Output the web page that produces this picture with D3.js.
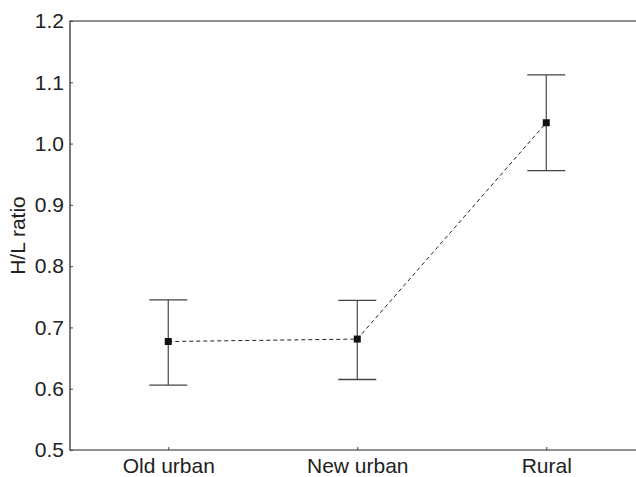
<!DOCTYPE html>
<html>
<head>
<meta charset="utf-8">
<script src="https://cdn.jsdelivr.net/npm/d3@7"></script>
<style>
  body { margin: 0; background: #fff; }
  text { font-family: "Liberation Sans", Arial, sans-serif; }
</style>
</head>
<body>
<div class="canva"></div>
<script>
const categories = ["Old urban", "New urban", "Rural"];
const means = [0.677, 0.681, 1.034];
const upper = [0.745, 0.744, 1.112];
const lower = [0.606, 0.615, 0.956];
const yTicks = [0.5, 0.6, 0.7, 0.8, 0.9, 1.0, 1.1, 1.2];

const width = 636, height = 477;
const plotLeft = 70, plotTop = 21, plotBottom = 450, plotRight = 637;
const fontSize = 21;

const svg = d3.select(".canva").append("svg")
    .attr("width", width)
    .attr("height", height);

const x = d3.scaleLinear().domain([-0.52, 2.48]).range([plotLeft, plotRight]);
const y = d3.scaleLinear().domain([0.5, 1.2]).range([plotBottom, plotTop]);

// frame (left, top, bottom; right side runs off the canvas)
svg.append("path")
    .attr("d", `M${plotRight},${plotTop}H${plotLeft}V${plotBottom}H${plotRight}`)
    .attr("fill", "none")
    .attr("stroke", "#222")
    .attr("stroke-width", 1.2);

// y axis, ticks pointing inward
const yAxis = d3.axisLeft(y).tickValues(yTicks).tickSizeInner(-3).tickSizeOuter(0)
    .tickPadding(6).tickFormat(d3.format(".1f"));
const gy = svg.append("g").attr("transform", `translate(${plotLeft},0)`).call(yAxis);
gy.select(".domain").remove();
gy.selectAll("line").attr("stroke", "#444");
gy.selectAll("text").attr("font-size", fontSize).attr("fill", "#222")
    .attr("font-family", "Liberation Sans, Arial, sans-serif");

// x axis, ticks pointing inward
const xAxis = d3.axisBottom(x).tickValues([0, 1, 2]).tickSizeInner(-3).tickSizeOuter(0)
    .tickPadding(8).tickFormat(i => categories[i]);
const gx = svg.append("g").attr("transform", `translate(0,${plotBottom})`).call(xAxis);
gx.select(".domain").remove();
gx.selectAll("line").attr("stroke", "#444");
gx.selectAll("text").attr("font-size", fontSize).attr("fill", "#222")
    .attr("font-family", "Liberation Sans, Arial, sans-serif");

// y label
svg.append("text")
    .attr("transform", `translate(25,${(plotTop + plotBottom) / 2}) rotate(-90)`)
    .attr("text-anchor", "middle")
    .attr("font-size", fontSize)
    .attr("fill", "#222")
    .text("H/L ratio");

const idx = d3.range(categories.length);

// dashed connecting line
svg.append("path")
    .datum(idx)
    .attr("d", d3.line().x(i => x(i)).y(i => y(means[i])))
    .attr("fill", "none")
    .attr("stroke", "#222")
    .attr("stroke-width", 1)
    .attr("stroke-dasharray", "4,3");

// error bars
const bars = svg.selectAll(".err").data(idx).enter().append("g").attr("class", "err");
bars.append("line")
    .attr("x1", i => x(i)).attr("x2", i => x(i))
    .attr("y1", i => y(upper[i])).attr("y2", i => y(lower[i]))
    .attr("stroke", "#555").attr("stroke-width", 1.3);
bars.append("line")
    .attr("x1", i => x(i) - 19).attr("x2", i => x(i) + 19)
    .attr("y1", i => y(upper[i])).attr("y2", i => y(upper[i]))
    .attr("stroke", "#444").attr("stroke-width", 1.3);
bars.append("line")
    .attr("x1", i => x(i) - 19).attr("x2", i => x(i) + 19)
    .attr("y1", i => y(lower[i])).attr("y2", i => y(lower[i]))
    .attr("stroke", "#444").attr("stroke-width", 1.3);

// markers
svg.selectAll(".pt").data(idx).enter().append("rect")
    .attr("class", "pt")
    .attr("x", i => x(i) - 3.5)
    .attr("y", i => y(means[i]) - 3.5)
    .attr("width", 7).attr("height", 7)
    .attr("fill", "#111");
</script>
</body>
</html>
